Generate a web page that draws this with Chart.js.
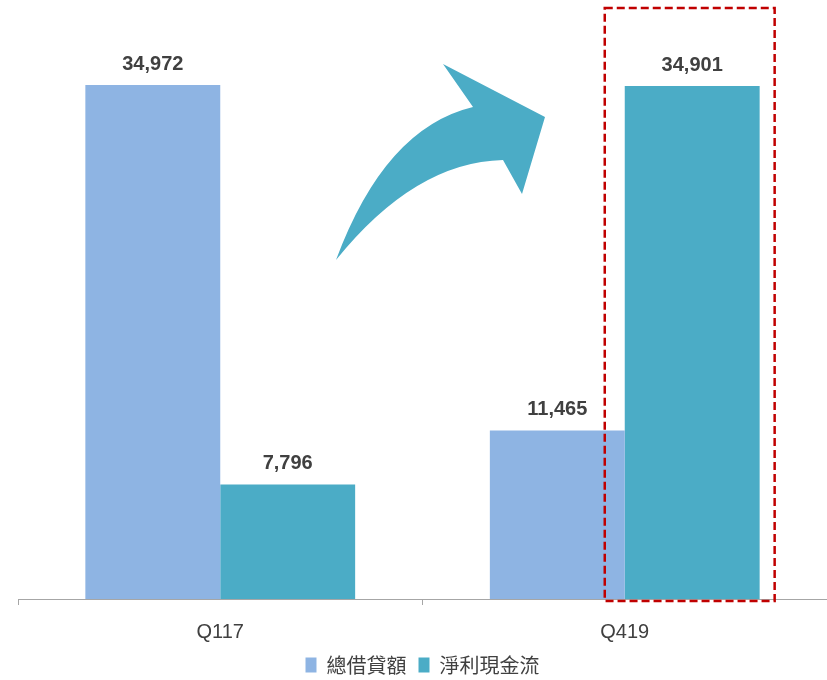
<!DOCTYPE html>
<html>
<head>
<meta charset="utf-8" />
<title>總借貸額 / 淨利現金流</title>
<script src="https://cdn.jsdelivr.net/npm/chart.js@4.4.1/dist/chart.umd.min.js"></script>
<style>
    html, body { margin: 0; padding: 0; background: #ffffff; }
    #wrap { width: 827px; height: 680px; }
</style>
</head>
<body>
<div id="wrap"><canvas id="chart"></canvas></div>

<script type="text/javascript">
// Data.
var categories = ['Q117', 'Q419'];
var seriesNames = ['總借貸額', '淨利現金流'];
var grossLoans = [34972, 11465];
var netCashFlow = [7796, 34901];
var seriesColors = ['#8EB4E3', '#4BACC6'];

// Numbers above each bar.
var barLabels = {
    id: 'barLabels',
    afterDatasetsDraw(chart) {
        let ctx = chart.ctx;
        ctx.save();
        ctx.font = 'bold 20px "Liberation Sans", Arial, sans-serif';
        ctx.fillStyle = '#404040';
        ctx.textAlign = 'center';
        ctx.textBaseline = 'alphabetic';
        chart.data.datasets.forEach((ds, i) => {
            chart.getDatasetMeta(i).data.forEach((bar, j) => {
                ctx.fillText(ds.data[j].toLocaleString('en-US'), bar.x, bar.y - 15);
            });
        });
        ctx.restore();
    }
};

// Curved arrow and dashed highlight box.
var callouts = {
    id: 'callouts',
    afterDraw(chart) {
        let ctx = chart.ctx;
        ctx.save();

        // arrow
        ctx.fillStyle = '#4BACC6';
        ctx.beginPath();
        ctx.moveTo(336, 260);
        ctx.quadraticCurveTo(385, 128, 473, 107);
        ctx.lineTo(443, 64);
        ctx.lineTo(545, 117);
        ctx.lineTo(522, 194);
        ctx.lineTo(503, 160);
        ctx.quadraticCurveTo(415, 162, 336, 260);
        ctx.closePath();
        ctx.fill();

        // dashed box round the Q419 net cash flow bar
        let bar = chart.getDatasetMeta(1).data[1];
        let left = bar.x - bar.width / 2 - 20;
        let right = bar.x + bar.width / 2 + 15;
        let top = chart.chartArea.top - 3;
        let bottom = bar.base + 2;
        ctx.strokeStyle = '#C00000';
        ctx.lineWidth = 2.5;
        ctx.setLineDash([8, 4]);
        ctx.strokeRect(left, top, right - left, bottom - top);
        ctx.restore();
    }
};

var chart = new Chart(document.getElementById('chart').getContext('2d'), {
    type: 'bar',
    data: {
        labels: categories,
        datasets: [
            {
                label: seriesNames[0],
                data: grossLoans,
                backgroundColor: seriesColors[0],
            },
            {
                label: seriesNames[1],
                data: netCashFlow,
                backgroundColor: seriesColors[1],
            },
        ],
    },
    options: {
        animation: false,
        responsive: true,
        maintainAspectRatio: false,
        datasets: {
            bar: {
                categoryPercentage: 0.667,
                barPercentage: 1.0,
            },
        },
        layout: {
            padding: { left: 18, right: 0, top: 11, bottom: -5 },
        },
        scales: {
            x: {
                grid: {
                    offset: true,
                    drawOnChartArea: false,
                    drawTicks: true,
                    tickLength: 6,
                    color: '#A6A6A6',
                },
                border: { color: '#A6A6A6', width: 1 },
                ticks: {
                    padding: 15,
                    color: '#404040',
                    font: { family: '"Liberation Sans", Arial, sans-serif', size: 20 },
                },
                afterFit(scale) { scale.height = 44; },
            },
            y: {
                display: false,
                min: 0,
                max: 40000,
            },
        },
        plugins: {
            legend: {
                position: 'bottom',
                labels: {
                    boxWidth: 11,
                    boxHeight: 15,
                    padding: 12,
                    color: '#404040',
                    font: { family: '"Noto Sans CJK TC", sans-serif', size: 20 },
                },
            },
            tooltip: { enabled: false },
        },
    },
    plugins: [barLabels, callouts],
});
</script>
</body>
</html>
